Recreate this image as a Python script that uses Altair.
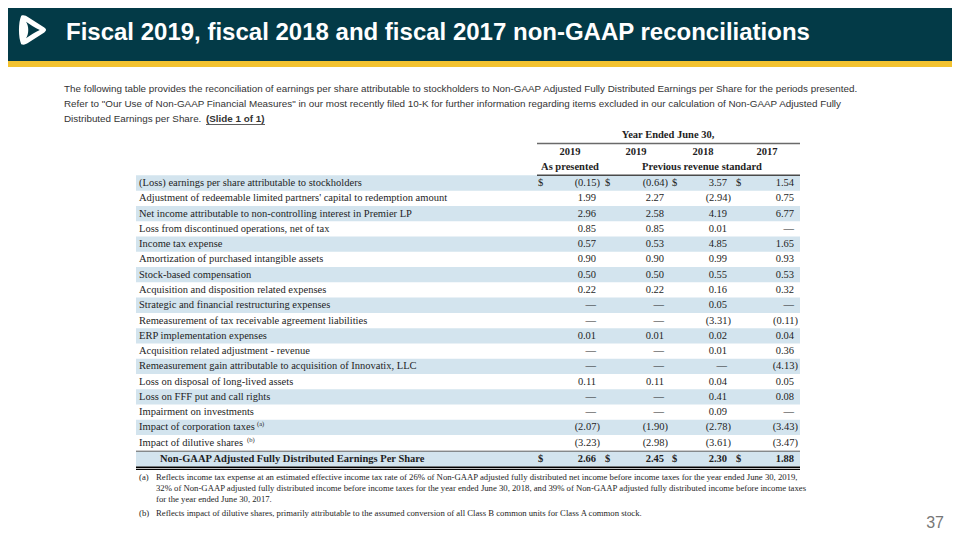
import altair as alt
import pandas as pd

# ---------------- data ----------------
title_text = "Fiscal 2019, fiscal 2018 and fiscal 2017 non-GAAP reconciliations"
intro_lines = [
    "The following table provides the reconciliation of earnings per share attributable to stockholders to Non-GAAP Adjusted Fully Distributed Earnings per Share for the periods presented.",
    "Refer to \"Our Use of Non-GAAP Financial Measures\" in our most recently filed 10-K for further information regarding items excluded in our calculation of Non-GAAP Adjusted Fully",
    "Distributed Earnings per Share.",
]
slide_ref = "(Slide 1 of 1)"

period_header = "Year Ended June 30,"
year_headers = ["2019", "2019", "2018", "2017"]
group_headers = ["As presented", "Previous revenue standard"]

row_labels = [
    "(Loss) earnings per share attributable to stockholders",
    "Adjustment of redeemable limited partners' capital to redemption amount",
    "Net income attributable to non-controlling interest in Premier LP",
    "Loss from discontinued operations, net of tax",
    "Income tax expense",
    "Amortization of purchased intangible assets",
    "Stock-based compensation",
    "Acquisition and disposition related expenses",
    "Strategic and financial restructuring expenses",
    "Remeasurement of tax receivable agreement liabilities",
    "ERP implementation expenses",
    "Acquisition related adjustment - revenue",
    "Remeasurement gain attributable to acquisition of Innovatix, LLC",
    "Loss on disposal of long-lived assets",
    "Loss on FFF put and call rights",
    "Impairment on investments",
    "Impact of corporation taxes",
    "Impact of dilutive shares",
]
row_notes = {16: "(a)", 17: "(b)"}
v2019_as_presented = [-0.15, 1.99, 2.96, 0.85, 0.57, 0.90, 0.50, 0.22, None, None, 0.01, None, None, 0.11, None, None, -2.07, -3.23]
v2019_previous = [-0.64, 2.27, 2.58, 0.85, 0.53, 0.90, 0.50, 0.22, None, None, 0.01, None, None, 0.11, None, None, -1.90, -2.98]
v2018 = [3.57, -2.94, 4.19, 0.01, 4.85, 0.99, 0.55, 0.16, 0.05, -3.31, 0.02, 0.01, None, 0.04, 0.41, 0.09, -2.78, -3.61]
v2017 = [1.54, 0.75, 6.77, None, 1.65, 0.93, 0.53, 0.32, None, -0.11, 0.04, 0.36, -4.13, 0.05, 0.08, None, -3.43, -3.47]
dollar_rows = [0]

total_label = "Non-GAAP Adjusted Fully Distributed Earnings Per Share"
totals = [2.66, 2.45, 2.30, 1.88]

footnote_marks = ["(a)", "(b)"]
footnote_a = [
    "Reflects income tax expense at an estimated effective income tax rate of 26% of Non-GAAP adjusted fully distributed net income before income taxes for the year ended June 30, 2019,",
    "32% of Non-GAAP adjusted fully distributed income before income taxes for the year ended June 30, 2018, and 39% of Non-GAAP adjusted fully distributed income before income taxes",
    "for the year ended June 30, 2017.",
]
footnote_b = ["Reflects impact of dilutive shares, primarily attributable to the assumed conversion of all Class B common units for Class A common stock."]
page_number = "37"

# ---------------- style / layout ----------------
NAVY = "#033a47"
GOLD = "#f3c22f"
BAND = "#d3e4ee"
INK = "#1e1e1e"
SANS = "Liberation Sans, Arial, sans-serif"
SERIF = "Liberation Serif, Times New Roman, serif"

W, H = 944, 524
OFF = 8  # page margin


def X(f="x"):
    return alt.X(f + ":Q", scale=alt.Scale(domain=[OFF, OFF + W], nice=False, zero=False), axis=None)


def Y(f="y"):
    return alt.Y(f + ":Q", scale=alt.Scale(domain=[OFF, OFF + H], nice=False, zero=False, reverse=True), axis=None)


def texts(rows, **kw):
    df = pd.DataFrame(rows, columns=["x", "y", "text"])
    return alt.Chart(df).mark_text(**kw).encode(x=X(), y=Y(), text="text:N")


def rects(rows):
    df = pd.DataFrame(rows, columns=["x", "x2", "y", "y2", "fill"])
    return alt.Chart(df).mark_rect().encode(
        x=X(), x2="x2:Q", y=Y(), y2="y2:Q", color=alt.Color("fill:N", scale=None)
    )


def rules(rows, width, color):
    df = pd.DataFrame(rows, columns=["x", "x2", "y"])
    return alt.Chart(df).mark_rule(strokeWidth=width, color=color).encode(x=X(), x2="x2:Q", y=Y())


def fmt(v):
    if v is None:
        return "\u2014"
    if v < 0:
        return f"({abs(v):.2f})"
    return f"{v:.2f}"


ROW0, ROWH = 183.0, 15.28
TOTAL_Y = 459.0
T_LEFT, T_RIGHT = 136, 800
col_right = [596, 664, 727, 794]
dollar_x = [538, 605, 672, 736]
year_x = [570, 636, 703, 767]
group_x = [570, 702]
note_x = {16: 257, 17: 247}
FS = 10.5

layers = []

# header band
layers.append(rects([(0, 960, 0, 61, NAVY), (0, 960, 61, 67, GOLD)]))

# logo
outer = ("M -0.72 -0.95 C -0.55 -1.02 -0.4 -0.95 -0.25 -0.85 L 0.82 -0.16 C 0.98 -0.05 0.98 0.05 0.82 0.16 "
         "L -0.25 0.85 C -0.4 0.95 -0.55 1.02 -0.72 0.95 C -0.92 0.5 -0.92 -0.5 -0.72 -0.95 Z")
inner = ("M -0.4 -0.55 C -0.1 -0.35 0.2 -0.15 0.52 0 C 0.2 0.15 -0.1 0.35 -0.4 0.55 "
         "C -0.2 0.25 -0.2 -0.25 -0.4 -0.55 Z")
logo_df = pd.DataFrame({"x": [32], "y": [30]})
layers.append(alt.Chart(logo_df).mark_point(shape=outer, filled=True, size=900, color="white", opacity=1).encode(x=X(), y=Y()))
layers.append(alt.Chart(logo_df).mark_point(shape=inner, filled=True, size=900, color=NAVY, opacity=1).encode(x=X(), y=Y()))

# title
layers.append(texts([(66, 33, title_text)], align="left", baseline="middle", font=SANS,
                    fontSize=24, fontWeight="bold", color="white"))

# intro paragraph
intro_rows = [(64, 89 + 15 * i, t) for i, t in enumerate(intro_lines)]
layers.append(texts(intro_rows, align="left", baseline="middle", font=SANS, fontSize=9.85, color="#333333"))
layers.append(texts([(206, 119, slide_ref)], align="left", baseline="middle", font=SANS, fontSize=9.85,
                    fontWeight="bold", color="#333333"))
layers.append(rules([(206, 265, 124.5)], 0.8, "#333333"))

# table bands
band_rows = []
for i in range(len(row_labels)):
    if i % 2 == 0:
        yc = ROW0 + i * ROWH
        band_rows.append((T_LEFT, T_RIGHT, yc - ROWH / 2, yc + ROWH / 2, BAND))
band_rows.append((T_LEFT, T_RIGHT, TOTAL_Y - 7.5, TOTAL_Y + 7.5, BAND))
layers.append(rects(band_rows))

# table header
layers.append(texts([(668, 135, period_header)], align="center", baseline="middle", font=SERIF,
                    fontSize=FS, fontWeight="bold", color=INK))
layers.append(texts([(year_x[i], 152, t) for i, t in enumerate(year_headers)], align="center",
                    baseline="middle", font=SERIF, fontSize=FS, fontWeight="bold", color=INK))
layers.append(texts([(group_x[i], 167, t) for i, t in enumerate(group_headers)], align="center",
                    baseline="middle", font=SERIF, fontSize=FS, fontWeight="bold", color=INK))
layers.append(rules([(537, T_RIGHT, 143.5)], 1.6, "#6a6a6a"))
layers.append(rules([(537, T_RIGHT, 175.3)], 1.4, "#4a4a4a"))

# row labels
label_rows = [(139, ROW0 + i * ROWH, t) for i, t in enumerate(row_labels)]
layers.append(texts(label_rows, align="left", baseline="middle", font=SERIF, fontSize=FS, color=INK))
note_rows = [(note_x[i], ROW0 + i * ROWH - 3, t) for i, t in row_notes.items()]
layers.append(texts(note_rows, align="left", baseline="middle", font=SERIF, fontSize=6.5, color=INK))

# values
cols = [v2019_as_presented, v2019_previous, v2018, v2017]
val_rows = []
for c, series in enumerate(cols):
    for i, v in enumerate(series):
        xr = col_right[c] + (4 if (v is not None and v < 0) else 0)
        val_rows.append((xr, ROW0 + i * ROWH, fmt(v)))
layers.append(texts(val_rows, align="right", baseline="middle", font=SERIF, fontSize=FS, color=INK))
dollar_rows_xy = [(dollar_x[c], ROW0 + r * ROWH, "$") for r in dollar_rows for c in range(4)]
layers.append(texts(dollar_rows_xy, align="left", baseline="middle", font=SERIF, fontSize=FS, color=INK))

# total row
layers.append(rules([(T_LEFT, T_RIGHT, TOTAL_Y - 7.8)], 0.8, "#333333"))
layers.append(texts([(160, TOTAL_Y, total_label)], align="left", baseline="middle", font=SERIF,
                    fontSize=FS, fontWeight="bold", color=INK))
layers.append(texts([(col_right[c], TOTAL_Y, fmt(v)) for c, v in enumerate(totals)], align="right",
                    baseline="middle", font=SERIF, fontSize=FS, fontWeight="bold", color=INK))
layers.append(texts([(dollar_x[c], TOTAL_Y, "$") for c in range(4)], align="left", baseline="middle",
                    font=SERIF, fontSize=FS, fontWeight="bold", color=INK))
layers.append(rules([(T_LEFT, T_RIGHT, TOTAL_Y + 8.2)], 1.6, "#000000"))
layers.append(rules([(T_LEFT, T_RIGHT, TOTAL_Y + 10.4)], 1.2, "#000000"))

# footnotes
fn_rows = [(156, 477 + 11 * i, t) for i, t in enumerate(footnote_a)]
fn_rows += [(156, 513, footnote_b[0])]
layers.append(texts(fn_rows, align="left", baseline="middle", font=SERIF, fontSize=8.7, color=INK))
layers.append(texts([(139, 477, footnote_marks[0]), (139, 513, footnote_marks[1])], align="left",
                    baseline="middle", font=SERIF, fontSize=8.7, color=INK))

# page number
layers.append(texts([(944, 523, page_number)], align="right", baseline="middle", font=SANS,
                    fontSize=16, color="#777777"))

chart = alt.layer(*layers).properties(
    width=W, height=H, padding=0, autosize=alt.AutoSizeParams(type="none"), background="white"
).configure_view(stroke=None)

chart.save("out.html", embed_options={"renderer": "svg", "actions": False})
